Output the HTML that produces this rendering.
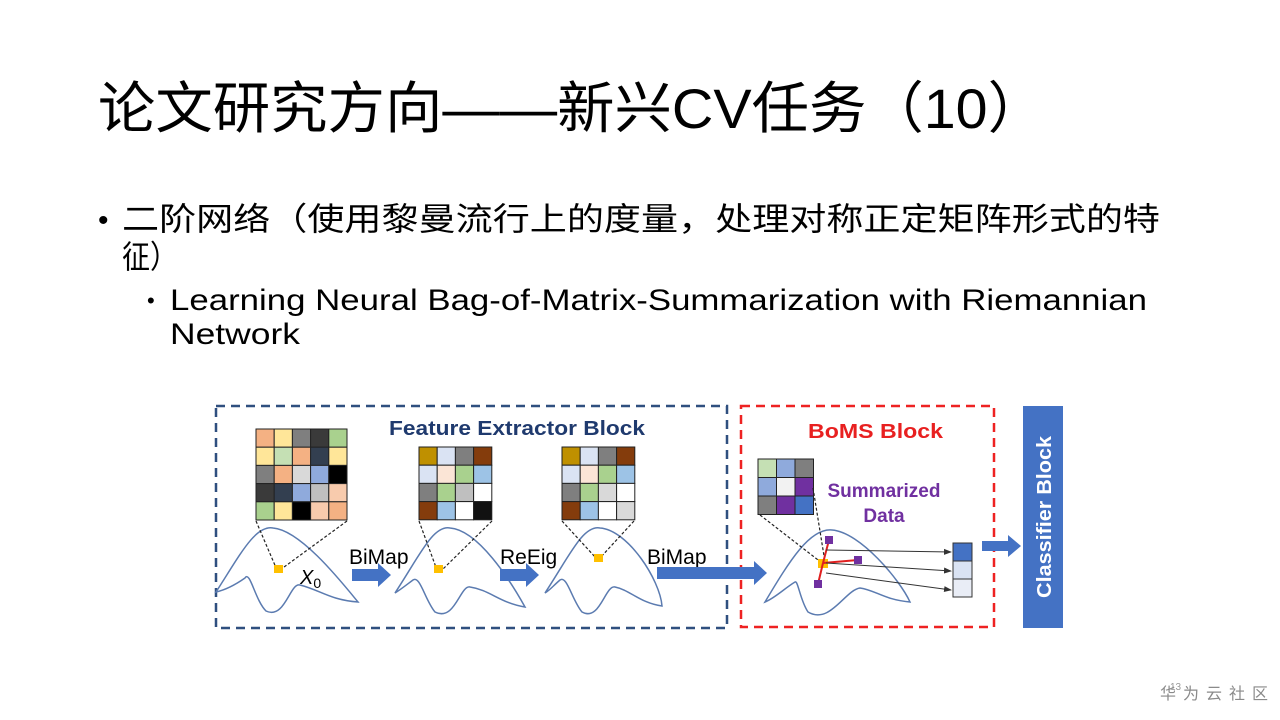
<!DOCTYPE html>
<html><head><meta charset="utf-8"><style>
html,body{margin:0;padding:0;background:#fff;}
svg{display:block}
text{font-family:"Liberation Sans","Noto Sans CJK SC",sans-serif;}
</style></head><body>
<svg width="1280" height="720" viewBox="0 0 1280 720" xmlns="http://www.w3.org/2000/svg">
<defs>
<marker id="ah" markerWidth="8" markerHeight="8" refX="7" refY="4" orient="auto" markerUnits="userSpaceOnUse"><path d="M0,1 L8,4 L0,7 Z" fill="#333"/></marker>
</defs>
<text x="98" y="128" font-size="56" textLength="947" lengthAdjust="spacingAndGlyphs" fill="#000">论文研究方向——新兴CV任务（10）</text>
<text x="98" y="230" font-size="30">•</text>
<text x="122" y="230" font-size="32" textLength="1038" lengthAdjust="spacingAndGlyphs">二阶网络（使用黎曼流行上的度量，处理对称正定矩阵形式的特</text>
<text x="122" y="268" font-size="32" textLength="56" lengthAdjust="spacingAndGlyphs">征）</text>
<text x="147" y="308" font-size="22">•</text>
<text x="170" y="310" font-size="30" textLength="977" lengthAdjust="spacingAndGlyphs">Learning Neural Bag-of-Matrix-Summarization with Riemannian</text>
<text x="170" y="344" font-size="30" textLength="130" lengthAdjust="spacingAndGlyphs">Network</text>

<rect x="216" y="406" width="511" height="222" fill="none" stroke="#2f4f7f" stroke-width="2.5" stroke-dasharray="9,6"/>
<rect x="741" y="406" width="253" height="221" fill="none" stroke="#ee2222" stroke-width="2.5" stroke-dasharray="9,6"/>
<rect x="1023" y="406" width="40" height="222" fill="#4472c4"/>
<text transform="translate(1051,598) rotate(-90)" font-size="20" font-weight="bold" fill="#fff" textLength="162" lengthAdjust="spacingAndGlyphs">Classifier Block</text>
<text x="389" y="435" font-size="20" font-weight="bold" fill="#1f3a6e" textLength="256" lengthAdjust="spacingAndGlyphs">Feature Extractor Block</text>
<text x="808" y="438" font-size="20" font-weight="bold" fill="#e82020" textLength="135" lengthAdjust="spacingAndGlyphs">BoMS Block</text>
<text x="884" y="497" font-size="19" font-weight="bold" fill="#7030a0" text-anchor="middle">Summarized</text>
<text x="884" y="522" font-size="19" font-weight="bold" fill="#7030a0" text-anchor="middle">Data</text>

<g stroke="#222" stroke-width="1">
<rect x="256" y="429" width="18.2" height="18.2" fill="#f4b183"/><rect x="274.2" y="429" width="18.2" height="18.2" fill="#ffe699"/><rect x="292.4" y="429" width="18.2" height="18.2" fill="#7f7f7f"/><rect x="310.6" y="429" width="18.2" height="18.2" fill="#3a3a3a"/><rect x="328.8" y="429" width="18.2" height="18.2" fill="#a9d18e"/>
<rect x="256" y="447.2" width="18.2" height="18.2" fill="#ffe699"/><rect x="274.2" y="447.2" width="18.2" height="18.2" fill="#c5e0b4"/><rect x="292.4" y="447.2" width="18.2" height="18.2" fill="#f4b183"/><rect x="310.6" y="447.2" width="18.2" height="18.2" fill="#333f50"/><rect x="328.8" y="447.2" width="18.2" height="18.2" fill="#ffe699"/>
<rect x="256" y="465.4" width="18.2" height="18.2" fill="#7f7f7f"/><rect x="274.2" y="465.4" width="18.2" height="18.2" fill="#f4b183"/><rect x="292.4" y="465.4" width="18.2" height="18.2" fill="#d9d9d9"/><rect x="310.6" y="465.4" width="18.2" height="18.2" fill="#8faadc"/><rect x="328.8" y="465.4" width="18.2" height="18.2" fill="#000"/>
<rect x="256" y="483.6" width="18.2" height="18.2" fill="#3a3a3a"/><rect x="274.2" y="483.6" width="18.2" height="18.2" fill="#333f50"/><rect x="292.4" y="483.6" width="18.2" height="18.2" fill="#8faadc"/><rect x="310.6" y="483.6" width="18.2" height="18.2" fill="#bfbfbf"/><rect x="328.8" y="483.6" width="18.2" height="18.2" fill="#f8cbad"/>
<rect x="256" y="501.8" width="18.2" height="18.2" fill="#a9d18e"/><rect x="274.2" y="501.8" width="18.2" height="18.2" fill="#ffe699"/><rect x="292.4" y="501.8" width="18.2" height="18.2" fill="#000"/><rect x="310.6" y="501.8" width="18.2" height="18.2" fill="#f8cbad"/><rect x="328.8" y="501.8" width="18.2" height="18.2" fill="#f4b183"/>
</g>
<g stroke="#222" stroke-width="1">
<rect x="419" y="447" width="18.2" height="18.2" fill="#bf9000"/><rect x="437.2" y="447" width="18.2" height="18.2" fill="#dae3f3"/><rect x="455.4" y="447" width="18.2" height="18.2" fill="#7f7f7f"/><rect x="473.6" y="447" width="18.2" height="18.2" fill="#843c0c"/>
<rect x="419" y="465.2" width="18.2" height="18.2" fill="#dae3f3"/><rect x="437.2" y="465.2" width="18.2" height="18.2" fill="#fbe5d6"/><rect x="455.4" y="465.2" width="18.2" height="18.2" fill="#a9d18e"/><rect x="473.6" y="465.2" width="18.2" height="18.2" fill="#9dc3e6"/>
<rect x="419" y="483.4" width="18.2" height="18.2" fill="#7f7f7f"/><rect x="437.2" y="483.4" width="18.2" height="18.2" fill="#a9d18e"/><rect x="455.4" y="483.4" width="18.2" height="18.2" fill="#bfbfbf"/><rect x="473.6" y="483.4" width="18.2" height="18.2" fill="#fff"/>
<rect x="419" y="501.6" width="18.2" height="18.2" fill="#843c0c"/><rect x="437.2" y="501.6" width="18.2" height="18.2" fill="#9dc3e6"/><rect x="455.4" y="501.6" width="18.2" height="18.2" fill="#fff"/><rect x="473.6" y="501.6" width="18.2" height="18.2" fill="#111"/>
</g>
<g stroke="#222" stroke-width="1">
<rect x="562" y="447" width="18.2" height="18.2" fill="#bf9000"/><rect x="580.2" y="447" width="18.2" height="18.2" fill="#dae3f3"/><rect x="598.4" y="447" width="18.2" height="18.2" fill="#7f7f7f"/><rect x="616.6" y="447" width="18.2" height="18.2" fill="#843c0c"/>
<rect x="562" y="465.2" width="18.2" height="18.2" fill="#dae3f3"/><rect x="580.2" y="465.2" width="18.2" height="18.2" fill="#fbe5d6"/><rect x="598.4" y="465.2" width="18.2" height="18.2" fill="#a9d18e"/><rect x="616.6" y="465.2" width="18.2" height="18.2" fill="#9dc3e6"/>
<rect x="562" y="483.4" width="18.2" height="18.2" fill="#7f7f7f"/><rect x="580.2" y="483.4" width="18.2" height="18.2" fill="#a9d18e"/><rect x="598.4" y="483.4" width="18.2" height="18.2" fill="#d9d9d9"/><rect x="616.6" y="483.4" width="18.2" height="18.2" fill="#fff"/>
<rect x="562" y="501.6" width="18.2" height="18.2" fill="#843c0c"/><rect x="580.2" y="501.6" width="18.2" height="18.2" fill="#9dc3e6"/><rect x="598.4" y="501.6" width="18.2" height="18.2" fill="#fff"/><rect x="616.6" y="501.6" width="18.2" height="18.2" fill="#d9d9d9"/>
</g>
<g stroke="#222" stroke-width="1">
<rect x="758" y="459" width="18.5" height="18.5" fill="#c5e0b4"/><rect x="776.5" y="459" width="18.5" height="18.5" fill="#8faadc"/><rect x="795" y="459" width="18.5" height="18.5" fill="#7f7f7f"/>
<rect x="758" y="477.5" width="18.5" height="18.5" fill="#8faadc"/><rect x="776.5" y="477.5" width="18.5" height="18.5" fill="#f2f2f2"/><rect x="795" y="477.5" width="18.5" height="18.5" fill="#7030a0"/>
<rect x="758" y="496" width="18.5" height="18.5" fill="#7f7f7f"/><rect x="776.5" y="496" width="18.5" height="18.5" fill="#7030a0"/><rect x="795" y="496" width="18.5" height="18.5" fill="#4472c4"/>
</g>

<g fill="none" stroke="#5b7bb0" stroke-width="1.5">
<path d="M216,592 C240,555 255,525 273,528 C300,530 340,580 358,602 C330,600 320,590 300,585 C290,582 285,620 266,611 C255,600 250,570 245,578 C235,585 225,590 216,592 Z"/>
<path d="M395,593 C420,555 433,525 450,528 C478,530 510,580 525,607 C500,603 490,590 470,587 C460,585 455,622 435,612 C425,600 420,575 413,580 C405,586 400,590 395,593 Z"/>
<path d="M545,593 C570,555 583,525 600,528 C628,530 660,580 662,606 C640,603 630,590 615,587 C605,585 600,622 582,612 C572,600 567,575 560,580 C553,586 550,590 545,593 Z"/>
<path d="M765,602 C790,560 810,528 832,530 C860,532 900,580 910,602 C885,600 875,590 860,588 C845,590 830,625 808,612 C800,600 798,580 795,582 C785,588 775,598 765,602 Z"/>
</g>
<g stroke="#222" stroke-width="1.2" stroke-dasharray="3,2" fill="none">
<line x1="256" y1="521" x2="277" y2="570"/><line x1="347" y1="521" x2="280" y2="570"/>
<line x1="419" y1="521" x2="437" y2="570"/><line x1="492" y1="521" x2="442" y2="570"/>
<line x1="562" y1="521" x2="596" y2="558"/><line x1="634" y1="521" x2="600" y2="558"/>
<line x1="760" y1="515" x2="822" y2="563"/><line x1="813" y1="488" x2="825" y2="562"/>
</g>
<g fill="#ffc000">
<rect x="274" y="565" width="9" height="8"/><rect x="434" y="565" width="9" height="8"/><rect x="594" y="554" width="9" height="8"/><rect x="818" y="559" width="10" height="9"/>
</g>
<text x="300" y="584" font-size="20" font-style="italic" font-family="Liberation Serif">X<tspan font-size="14" dy="4" font-style="normal">0</tspan></text>
<text x="349" y="564" font-size="21">BiMap</text>
<text x="500" y="564" font-size="21">ReEig</text>
<text x="647" y="564" font-size="21">BiMap</text>
<g fill="#4472c4">
<path d="M352,569 H378 V563 L391,575 L378,587 V581 H352 Z"/>
<path d="M500,569 H526 V563 L539,575 L526,587 V581 H500 Z"/>
<path d="M657,567 H754 V561 L767,573 L754,585 V579 H657 Z"/>
<path d="M982,541 H1008 V535 L1021,546 L1008,557 V551 H982 Z"/>
</g>
<g stroke="#e02020" stroke-width="2">
<line x1="823" y1="563" x2="829" y2="540"/><line x1="823" y1="563" x2="858" y2="560"/><line x1="823" y1="563" x2="818" y2="584"/>
</g>
<g fill="#7030a0"><rect x="825" y="536" width="8" height="8"/><rect x="854" y="556" width="8" height="8"/><rect x="814" y="580" width="8" height="8"/></g>
<g stroke="#333" stroke-width="1" marker-end="url(#ah)">
<line x1="826" y1="550" x2="951" y2="552"/><line x1="826" y1="563" x2="951" y2="571"/><line x1="826" y1="573" x2="951" y2="590"/>
</g>
<g stroke="#333" stroke-width="1">
<rect x="953" y="543" width="19" height="18" fill="#4472c4"/><rect x="953" y="561" width="19" height="18" fill="#dae3f3"/><rect x="953" y="579" width="19" height="18" fill="#e9edf6"/>
</g>
<text x="1170" y="690" font-size="10" fill="#999">13</text>
<text x="1160" y="699" font-size="16" fill="#8a8a8a" letter-spacing="7">华为云社区</text>
</svg>
</body></html>
